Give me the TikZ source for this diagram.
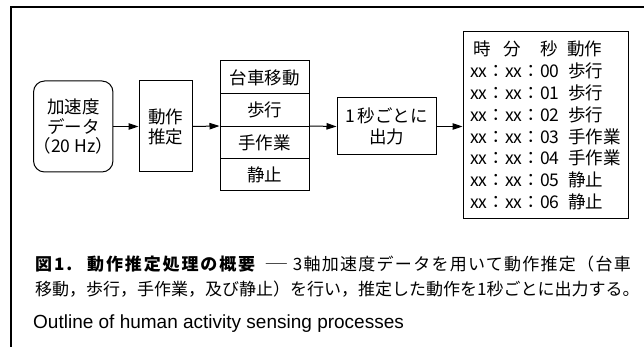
\documentclass[tikz,border=0pt]{standalone}
\usepackage{fontspec}
\setmainfont{Liberation Sans}
\newfontfamily\jp{Noto Sans CJK JP}
\usetikzlibrary{arrows.meta}
\begin{document}
\begin{tikzpicture}[x=1pt,y=-1pt,
  box/.style={draw,line width=1pt,inner sep=0pt,align=center,
    font=\jp\fontsize{17.5}{20}\selectfont},
  arr/.style={line width=1pt,-{Triangle[length=10pt,width=6.5pt]}},
  ttxt/.style={font=\jp\fontsize{17.5}{20}\selectfont,inner sep=0pt,anchor=base west},
  captxt/.style={font=\jp\fontsize{17}{20}\selectfont,inner sep=0pt},
  capbold/.style={font=\jp\bfseries\fontsize{17}{20}\selectfont\addfontfeature{LetterSpace=11},inner sep=0pt,anchor=base west}]
\useasboundingbox (0,0) rectangle (644,347);
\draw[line width=1.2pt] (644,7) -- (11,7) -- (11,347);

\node[box,rounded corners=11pt,minimum width=74.5pt,minimum height=91pt,
  font=\jp\fontsize{17.5}{19.5}\selectfont] (acc) at (73.25,126.5) {加速度\\データ\\（20 Hz）};
\node[box,minimum width=53pt,minimum height=91pt] (est) at (165.5,126.5) {動作\\推定};

\node[box,minimum width=89pt,minimum height=33pt] (r1) at (264.5,77.5) {台車移動};
\node[box,minimum width=89pt,minimum height=32.5pt] (r2) at (264.5,110.25) {歩行};
\node[box,minimum width=89pt,minimum height=32.5pt] (r3) at (264.5,142.75) {手作業};
\node[box,minimum width=89pt,minimum height=32pt] (r4) at (264.5,175) {静止};

\node[box,minimum width=99pt,minimum height=57pt,
  font=\jp\fontsize{17.5}{21}\selectfont] (out) at (386.5,126.5) {1\,秒ごとに\\出力};
\node[box,minimum width=165pt,minimum height=186pt] (tab) at (545.5,125) {};

\draw[arr] (acc.east) -- (est.west);
\draw[arr] (est.east) -- (r3.north west);
\draw[arr] (r3.north east) -- (out.west);
\draw[arr] (out.east) -- (out.east -| tab.west);

\node[ttxt] (h1) at (473,56) {時};
\node[ttxt] (h2) at (503,56) {分};
\node[ttxt] (h3) at (540,56) {秒};
\node[ttxt] (h4) at (567,56) {動作};
\foreach \t/\a [count=\i] in {00/歩行,01/歩行,02/歩行,03/手作業,04/手作業,05/静止,06/静止}{
  \node[ttxt] (t\i) at (470,{56+21.8*\i}) {xx：xx：\t};
  \node[ttxt] (a\i) at (568,{56+21.8*\i}) {\a};
}

\node[capbold] (c1) at (35,270) {図1.};
\node[capbold] (c2) at (87,270) {動作推定処理の概要};
\node[captxt,anchor=base west] (c3a) at (264,270) {\scalebox{1.45}[1]{―}};
\node[captxt,anchor=base east,font=\jp\fontsize{17}{20}\selectfont\addfontfeature{LetterSpace=7.5}] (c3) at (631,270) {3軸加速度データを用いて動作推定（台車};
\node[captxt,anchor=base west] (c4) at (35,295) {移動，歩行，手作業，及び静止）を行い，推定した動作を1秒ごとに出力する。};
\node[inner sep=0pt,anchor=base west,font=\fontsize{19}{20}\selectfont] (c5) at (33,328) {Outline of human activity sensing processes};
\end{tikzpicture}
\end{document}
